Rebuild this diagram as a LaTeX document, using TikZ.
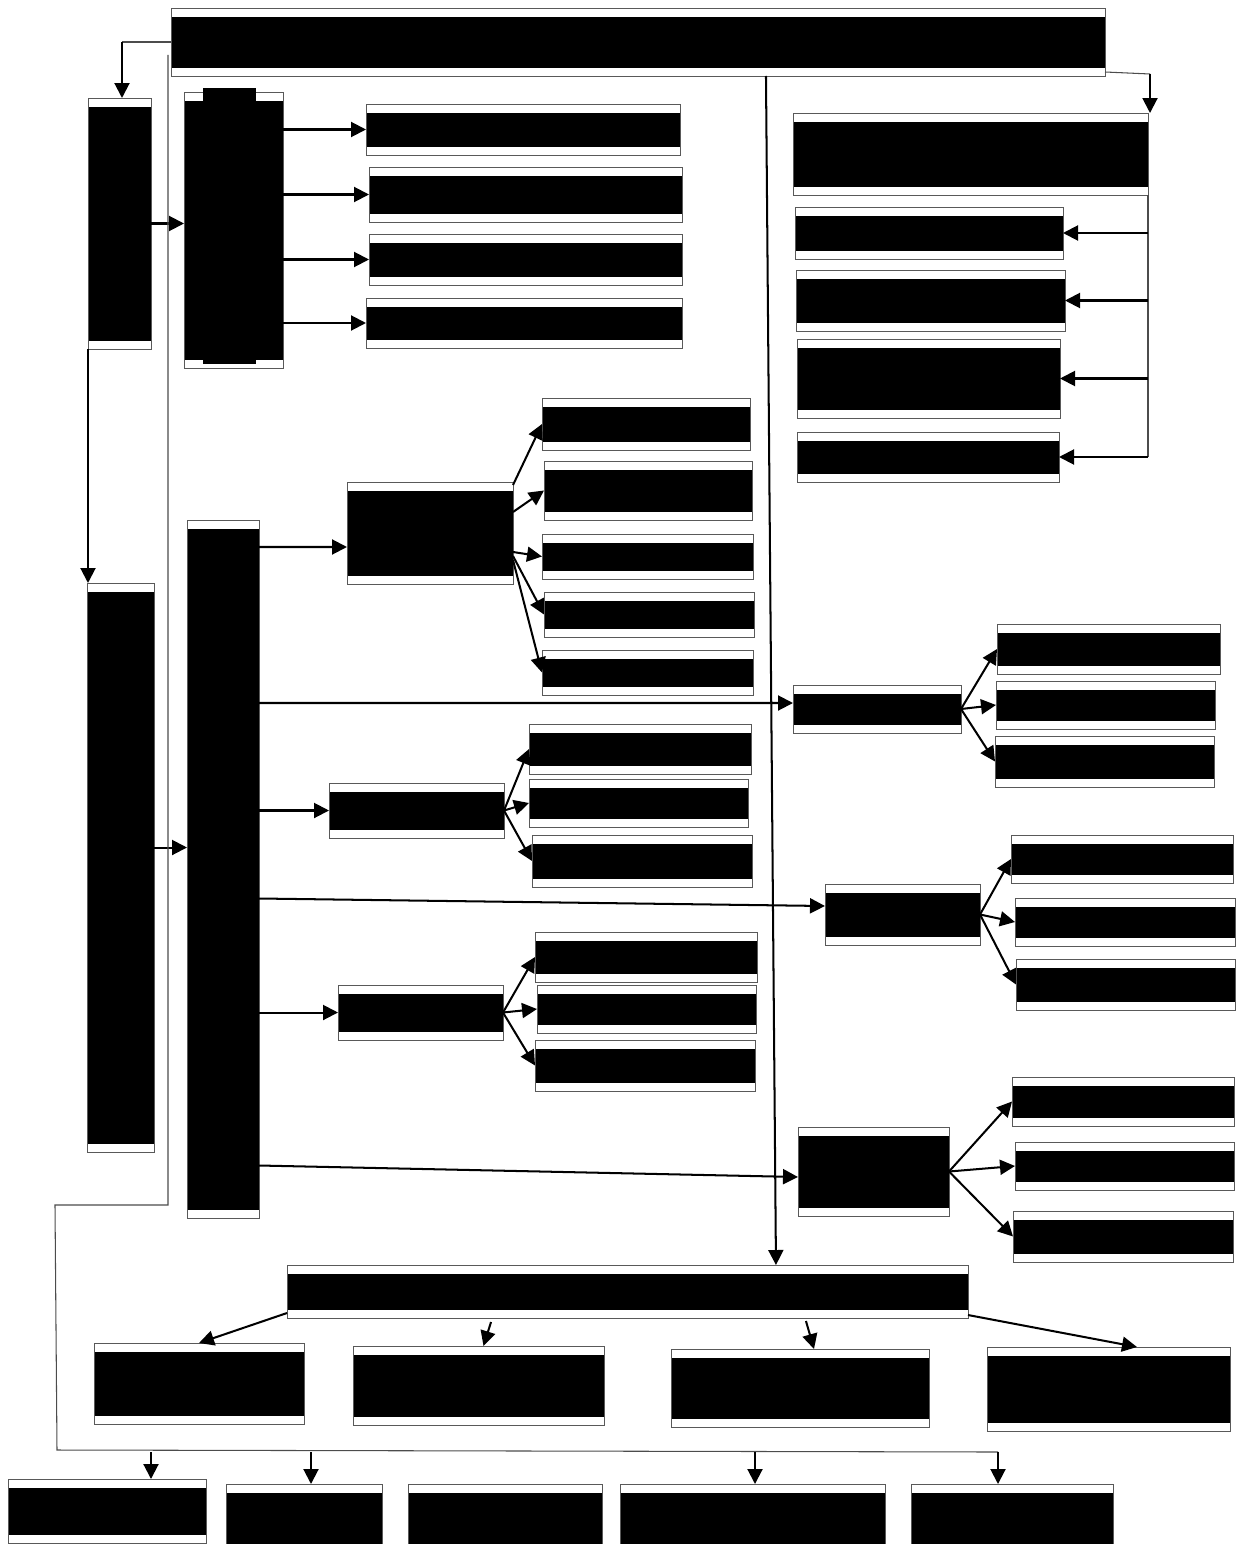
\documentclass[tikz,border=0pt]{standalone}
\usetikzlibrary{arrows.meta}

% one box: name, left, top, right, bottom (in pixel units)
\newcommand\panel[5]{%
  \node[panel,minimum width={(#4-#2)*0.02cm},minimum height={(#5-#3)*0.02cm}]
    (#1) at ({(#2+#4)/2},{(#3+#5)/2}) {};}

\begin{document}
\begin{tikzpicture}[x=0.02cm,y=-0.02cm,
  panel/.style={draw=black!65,line width=0.5pt,inner sep=0pt,outer sep=0pt,
    path picture={\fill ([yshift=-0.18cm]path picture bounding box.north west)
      rectangle ([yshift=0.16cm]path picture bounding box.south east);}},
  arr/.style={line width=1.15pt,-{Triangle[length=0.3cm,width=0.3cm]}},
  thinln/.style={line width=0.6pt,draw=black!70}]
\useasboundingbox (0,0) rectangle (1236,1544);
\clip (0,0) rectangle (1236,1544);

% top
\panel{title}{171}{8}{1105}{76}
\panel{A}{88}{98}{151}{349}
\panel{B}{184}{92}{283}{368}
\fill (203,88) rectangle (256,364);
\panel{B1}{366}{104}{680}{155}
\panel{B2}{369}{167}{682}{222}
\panel{B3}{369}{234}{682}{285}
\panel{B4}{366}{298}{682}{348}

% right column
\panel{R0}{793}{113}{1148}{195}
\panel{R1}{795}{207}{1063}{259}
\panel{R2}{796}{270}{1065}{331}
\panel{R3}{797}{339}{1060}{418}
\panel{R4}{797}{432}{1059}{482}

% middle
\panel{C}{87}{583}{154}{1152}
\panel{D}{187}{520}{259}{1218}
\panel{E}{347}{482}{513}{584}
\panel{E1}{542}{398}{750}{450}
\panel{E2}{544}{461}{752}{520}
\panel{E3}{542}{534}{753}{579}
\panel{E4}{544}{592}{754}{637}
\panel{E5}{542}{650}{753}{695}
\panel{H}{793}{685}{961}{733}
\panel{H1}{997}{624}{1220}{674}
\panel{H2}{996}{681}{1215}{729}
\panel{H3}{995}{736}{1214}{787}
\panel{F}{329}{783}{504}{838}
\panel{F1}{529}{724}{751}{774}
\panel{F2}{529}{779}{748}{827}
\panel{F3}{532}{835}{752}{887}
\panel{I}{825}{884}{980}{945}
\panel{I1}{1011}{835}{1233}{883}
\panel{I2}{1015}{898}{1235}{946}
\panel{I3}{1016}{959}{1235}{1010}
\panel{G}{338}{985}{503}{1040}
\panel{G1}{535}{932}{757}{982}
\panel{G2}{537}{985}{756}{1033}
\panel{G3}{535}{1040}{755}{1091}
\panel{J}{798}{1127}{949}{1216}
\panel{J1}{1012}{1077}{1234}{1126}
\panel{J2}{1015}{1142}{1234}{1190}
\panel{J3}{1013}{1211}{1233}{1262}

% bottom
\panel{K}{287}{1265}{968}{1318}
\panel{K1}{94}{1343}{304}{1424}
\panel{K2}{353}{1346}{604}{1425}
\panel{K3}{671}{1349}{929}{1427}
\panel{K4}{987}{1347}{1230}{1431}
\panel{L1}{8}{1479}{206}{1543}
\panel{L2}{226}{1484}{382}{1556}
\panel{L3}{408}{1484}{602}{1556}
\panel{L4}{620}{1484}{885}{1556}
\panel{L5}{911}{1484}{1113}{1556}

% connectors, top
\draw[thinln] (title.west) -- ++(-49,0) coordinate (tl);
\draw[arr] (tl) -- (tl |- A.north);
\coordinate (tr) at (1150,74);
\draw[thinln] ([yshift=0.08cm]title.south east) -- (tr);
\draw[arr] (tr) -- (tr |- R0.north);
\draw[thinln] (R0.south east) -- (R0.south east |- R4.east);
\foreach \n in {R1,R2,R3,R4}
  \draw[arr] (R0.south east |- \n.east) -- (\n.east);
\draw[arr] (A.east) -- (A.east -| B.west);
\foreach \n in {B1,B2,B3,B4}
  \draw[arr] (B.east |- \n.west) -- (\n.west);
\draw[arr] (A.south west) -- (A.south west |- C.north);
\draw[arr] ([yshift=0.4cm]C.east) -- ([yshift=0.4cm]C.east -| D.west);

% connectors, middle
\draw[arr] (D.east |- E.west) ++(0,14) -- ([yshift=-0.28cm]E.west);
\draw[arr] (D.east |- H.west) ++(0,-6) -- ([yshift=0.12cm]H.west);
\draw[arr] (D.east |- I.west) ++(0,-16) -- ([yshift=0.17cm]I.west);
\draw[arr] (D.east |- J.west) ++(0,-6) -- ([yshift=-0.11cm]J.west);
\foreach \n in {F,G}
  \draw[arr] (D.east |- \n.west) -- (\n.west);
\draw[arr] ([yshift=0.96cm]E.east) -- (E1.west);
\draw[arr] ([yshift=0.42cm]E.east) -- (E2.west);
\draw[arr] ([yshift=-0.38cm]E.east) -- (E3.west);
\draw[arr] ([yshift=-0.46cm]E.east) -- (E4.west);
\draw[arr] ([yshift=-0.54cm]E.east) -- (E5.west);
\foreach \p in {H,F,I,G,J}
  \foreach \k in {1,2,3}
    \draw[arr] (\p.east) -- (\p\k.west);

% connectors, bottom
\draw[arr] ([xshift=2.56cm]title.south) -- ([xshift=2.97cm]K.north);
\draw[arr] ([yshift=0.1cm]K.south west) -- (K1.north);
\draw[arr] ([xshift=-2.73cm,yshift=-0.08cm]K.south) -- ([xshift=0.1cm]K2.north);
\draw[arr] ([xshift=3.57cm,yshift=-0.06cm]K.south) -- ([xshift=0.28cm]K3.north);
\draw[arr] ([yshift=0.06cm]K.south east) -- ([xshift=0.57cm]K4.north);
\coordinate (lt) at (168,55);
\coordinate (lb) at (168,1205);
\draw[thinln] (lt) -- (lb) -- ++(-113,0) coordinate (bc) -- ++(2,245) coordinate (b0)
  -- (998,1452) coordinate (b1);
\coordinate (t1) at (151,1452);
\coordinate (t2) at (311,1452);
\coordinate (t4) at (755,1452);
\draw[arr] (t1) -- (t1 |- L1.north);
\draw[arr] (t2) -- (t2 |- L2.north);
\draw[arr] (t4) -- (t4 |- L4.north);
\draw[arr] (b1) -- (b1 |- L5.north);
\end{tikzpicture}
\end{document}
